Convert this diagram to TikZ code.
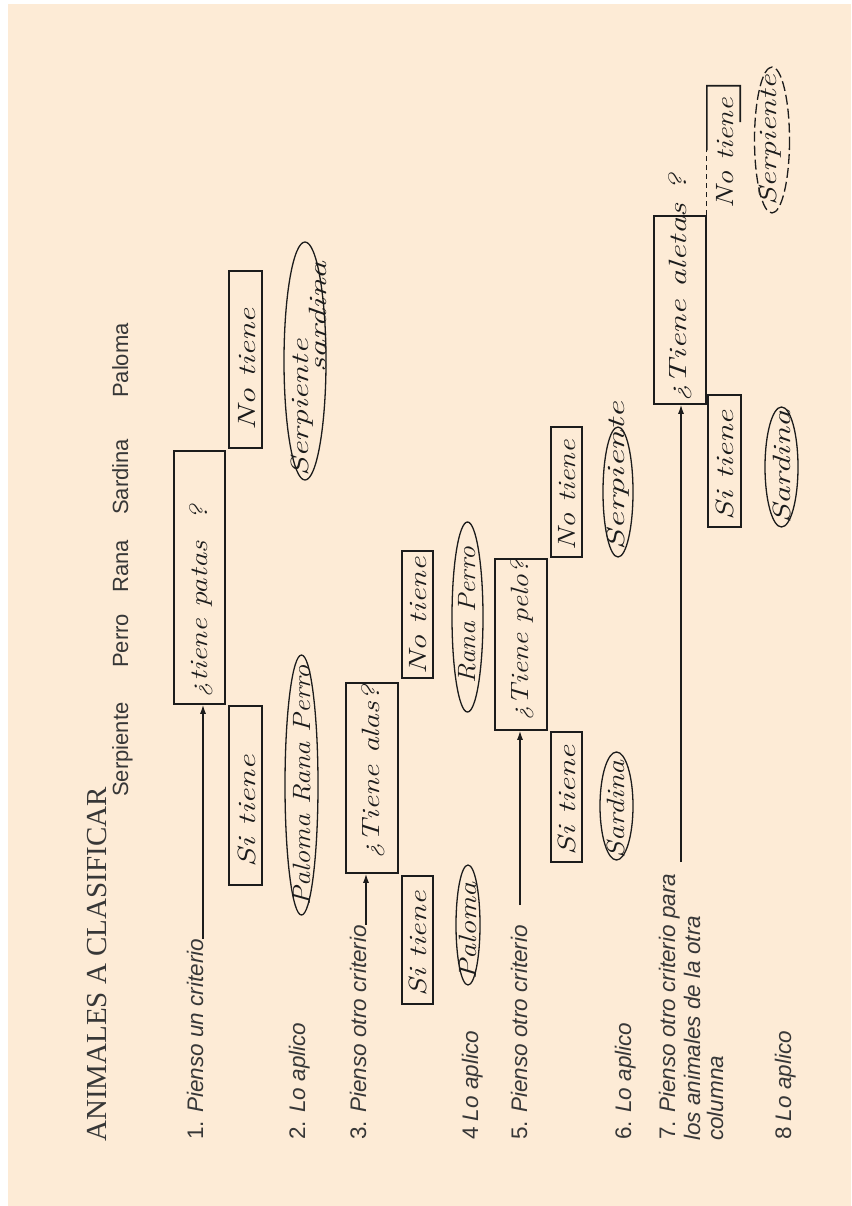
\documentclass[tikz,border=0pt]{standalone}
\usepackage{fontspec}
\usepackage{graphicx}
\usetikzlibrary{arrows.meta,calc}
\newfontfamily\lsans{Liberation Sans}
\newfontfamily\lserif{Liberation Serif}
\newcommand\hand{\normalfont\itshape\fontsize{25}{27}\selectfont}
\newcommand\hwt[2]{\rotatebox{90}{\resizebox{#1pt}{\height}{\hand #2}}}
\definecolor{paper}{RGB}{253,235,214}
\definecolor{ink}{RGB}{28,28,28}
\definecolor{print}{RGB}{55,55,55}
\begin{document}
\begin{tikzpicture}[x=1pt,y=-1pt,
 box/.style={draw=ink,line width=1.6pt,inner sep=0pt},
 hw/.style={inner sep=0pt,text=ink},
 oval/.style={draw=ink,line width=1.3pt},
 lbl/.style={rotate=90,anchor=base west,inner sep=0pt,text=print,font=\lsans\fontsize{22.5}{24.5}\selectfont\itshape},
 word/.style={rotate=90,anchor=base west,inner sep=0pt,text=print,font=\lsans\fontsize{22}{24}\selectfont},
 arr/.style={draw=ink,line width=1.3pt,-{Latex[length=9pt,width=6pt]}}]
\fill[white] (0,0) rectangle (851,1206);
\fill[paper] (8,4) rectangle (851,1206);
\useasboundingbox (0,0) rectangle (851,1206);

% title and animals
\node[rotate=90,anchor=base west,inner sep=0pt,text=print,font=\lserif\fontsize{29}{32}\selectfont] (title) at (106,1142) {ANIMALES A CLASIFICAR};
\node[word] (w1) at (128,797) {Serpiente};
\node[word] (w2) at (128,668) {Perro};
\node[word] (w3) at (128,593) {Rana};
\node[word] (w4) at (128,515) {Sardina};
\node[word] (w5) at (128,398) {Paloma};

% step labels
\node[lbl] (t1) at (203,1140) {{\upshape 1.} Pienso un criterio};
\node[lbl] (t2) at (305,1140) {{\upshape 2.} Lo aplico};
\node[lbl] (t3) at (366,1140) {{\upshape 3.} Pienso otro criterio};
\node[lbl] (t4) at (478,1140) {{\upshape 4} Lo aplico};
\node[lbl] (t5) at (527,1140) {{\upshape 5.} Pienso otro criterio};
\node[lbl] (t6) at (631,1140) {{\upshape 6.} Lo aplico};
\node[lbl] (t7a) at (675,1140) {{\upshape 7.} Pienso otro criterio para};
\node[lbl] (t7b) at (700,1141) {los animales de la otra};
\node[lbl] (t7c) at (723,1141) {columna};
\node[lbl] (t8) at (791,1140) {{\upshape 8} Lo aplico};

% boxes
\node[box,minimum width=51pt,minimum height=253pt] (patas) at (199.5,577.5) {};
\node[box,minimum width=33pt,minimum height=179pt] (si1) at (245.5,795.5) {};
\node[box,minimum width=33pt,minimum height=177pt] (no1) at (245.5,359.5) {};
\node[box,minimum width=52pt,minimum height=190pt] (alas) at (372,778) {};
\node[box,minimum width=31pt,minimum height=127pt] (no2) at (417.5,614.5) {};
\node[box,minimum width=31pt,minimum height=128pt] (si2) at (417.5,940) {};
\node[box,minimum width=52pt,minimum height=171pt] (pelo) at (521,644.5) {};
\node[box,minimum width=31pt,minimum height=130pt] (no3) at (566.5,492) {};
\node[box,minimum width=31pt,minimum height=130pt] (si3) at (566.5,797) {};
\node[box,minimum width=52pt,minimum height=188pt] (aletas) at (680,310) {};
\node[box,minimum width=33pt,minimum height=132pt] (si4) at (724.5,461) {};
\node[inner sep=0pt,minimum width=33pt,minimum height=129pt] (no4) at (723.5,150.5) {};
\draw[ink,line width=1.3pt,dash pattern=on 5pt off 4pt] (no4.south west) -- (no4.west);
\draw[ink,line width=1.6pt] (no4.west) -- (no4.north west) -- (no4.north east) -- ($(no4.north east)!0.28!(no4.south east)$);

% arrows
\draw[arr] (t1.base east) -- (t1.base east |- patas.south);
\draw[arr] (t3.base east) -- (t3.base east |- alas.south);
\coordinate (c5) at (520,905);
\draw[arr] (c5) -- (c5 |- pelo.south);
\coordinate (c7) at (681,862);
\draw[arr] (c7) -- (c7 |- aletas.south);

% handwritten texts in boxes
\node[hw] (patasT) at (201,601) {\hwt{192}{¿tiene patas\ \ ?}};
\node[hw] (si1T) at (247,811) {\hwt{112}{Si tiene}};
\node[hw] (no1T) at (247,369) {\hwt{122}{No tiene}};
\node[hw] (alasT) at (373,772) {\hwt{172}{¿Tiene alas?}};
\node[hw] (no2T) at (418,616) {\hwt{117}{No tiene}};
\node[hw] (si2T) at (418,944) {\hwt{105}{Si tiene}};
\node[hw] (peloT) at (522,640) {\hwt{160}{¿Tiene pelo?}};
\node[hw] (no3T) at (567,495) {\hwt{110}{No tiene}};
\node[hw] (si3T) at (567,800) {\hwt{110}{Si tiene}};
\node[hw] (aletasT) at (680,288) {\hwt{227}{¿Tiene aletas\ ?}};
\node[hw] (si4T) at (725,465) {\hwt{110}{Si tiene}};
\node[hw] (no4T) at (725,153) {\hwt{110}{No tiene}};

% ovals with animals
\draw[oval] (301.5,785) ellipse [x radius=16.5, y radius=130];
\node[hw] (e1) at (302,785) {\hwt{240}{Paloma Rana Perro}};
\draw[oval] (305,361) ellipse [x radius=21, y radius=119];
\node[hw] (e2a) at (302,408) {\hwt{137}{Serpiente}};
\node[hw] (e2b) at (318,317) {\hwt{111}{sardina}};
\draw[oval] (468,925) ellipse [x radius=12, y radius=60];
\node[hw] (e3) at (468,931) {\hwt{97}{Paloma}};
\draw[oval] (467.5,617) ellipse [x radius=15.5, y radius=95];
\node[hw] (e4) at (467,615) {\hwt{136}{Rana Perro}};
\draw[oval] (616.5,806) ellipse [x radius=16.5, y radius=54];
\node[hw] (e5) at (616,809) {\hwt{98}{Sardina}};
\draw[oval] (618,492) ellipse [x radius=15, y radius=65];
\node[hw] (e6) at (618,476) {\hwt{148}{Serpiente}};
\draw[oval] (781.5,467) ellipse [x radius=16.5, y radius=60];
\node[hw] (e7) at (782,467) {\hwt{113}{Sardina}};
\draw[oval,dash pattern=on 10pt off 4pt] (772,140) ellipse [x radius=17.5, y radius=73];
\node[hw] (e8) at (770,140) {\hwt{130}{Serpiente}};
\end{tikzpicture}
\end{document}
